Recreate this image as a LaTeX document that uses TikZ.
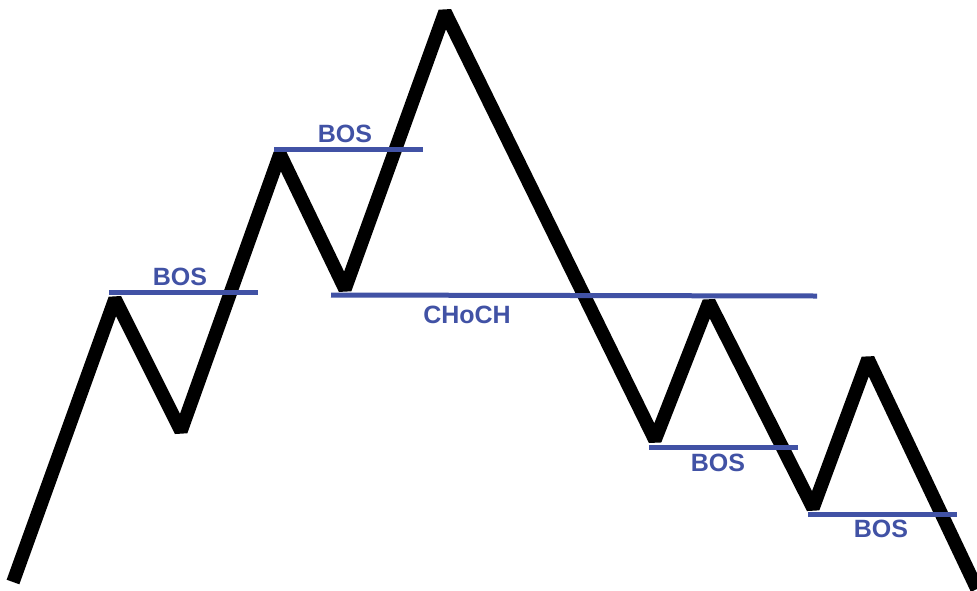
\documentclass[tikz,border=0pt]{standalone}
\usepackage{fontspec}
\setmainfont{Liberation Sans}
\usepackage{tikz}
\usetikzlibrary{positioning, calc}
\definecolor{bosblue}{RGB}{65,82,165}
\tikzset{
	pricepath/.style={line width=13.5pt, black, line join=bevel}
}
\tikzset{
	levelline/.style={line width=5pt, bosblue}
}
\tikzset{
	leveltext/.style={font=\bfseries\fontsize{25}{25}\selectfont\color{bosblue}, inner sep=0pt}
}
\begin{document}
\begin{tikzpicture}[x=1pt,y=-1pt]
      \useasboundingbox (0,0) rectangle (977,590);
      % swing points
      \coordinate (s0) at (13,582);
      \coordinate (p1) at (115,299);
      \coordinate (t1) at (181,431);
      \coordinate (p2) at (280,154);
      \coordinate (t2) at (345,289);
      \coordinate (p3) at (445,12);
      \coordinate (t3) at (655,440);
      \coordinate (p4) at (709,302);
      \coordinate (t4) at (813,508);
      \coordinate (p5) at (868,359);
      \coordinate (s1) at (977,589);
      \draw[pricepath] (s0) -- (p1) -- (t1) -- (p2) -- (t2) -- (p3) -- (t3) -- (p4) -- (t4) -- (p5) -- (s1);
      % levels
      \coordinate (b1a) at (109,292);
      \coordinate (b1b) at (258,292);
      \coordinate (b2a) at (274,149);
      \coordinate (b2b) at (423,149);
      \coordinate (cha) at (331,295);
      \coordinate (chb) at (817,296);
      \coordinate (b3a) at (649,447);
      \coordinate (b3b) at (798,447);
      \coordinate (b4a) at (808,514);
      \coordinate (b4b) at (957,514);
      \draw[levelline] (b1a) -- (b1b);
      \draw[levelline] (b2a) -- (b2b);
      \draw[levelline] (cha) -- (chb);
      \draw[levelline] (b3a) -- (b3b);
      \draw[levelline] (b4a) -- (b4b);
      \node[leveltext] (l1) at (180,277) {BOS};
      \node[leveltext] (l2) at (345,134) {BOS};
      \node[leveltext] (l3) at (467,315) {CHoCH};
      \node[leveltext] (l4) at (718,463) {BOS};
      \node[leveltext] (l5) at (881,529) {BOS};
    \end{tikzpicture}
\end{document}
